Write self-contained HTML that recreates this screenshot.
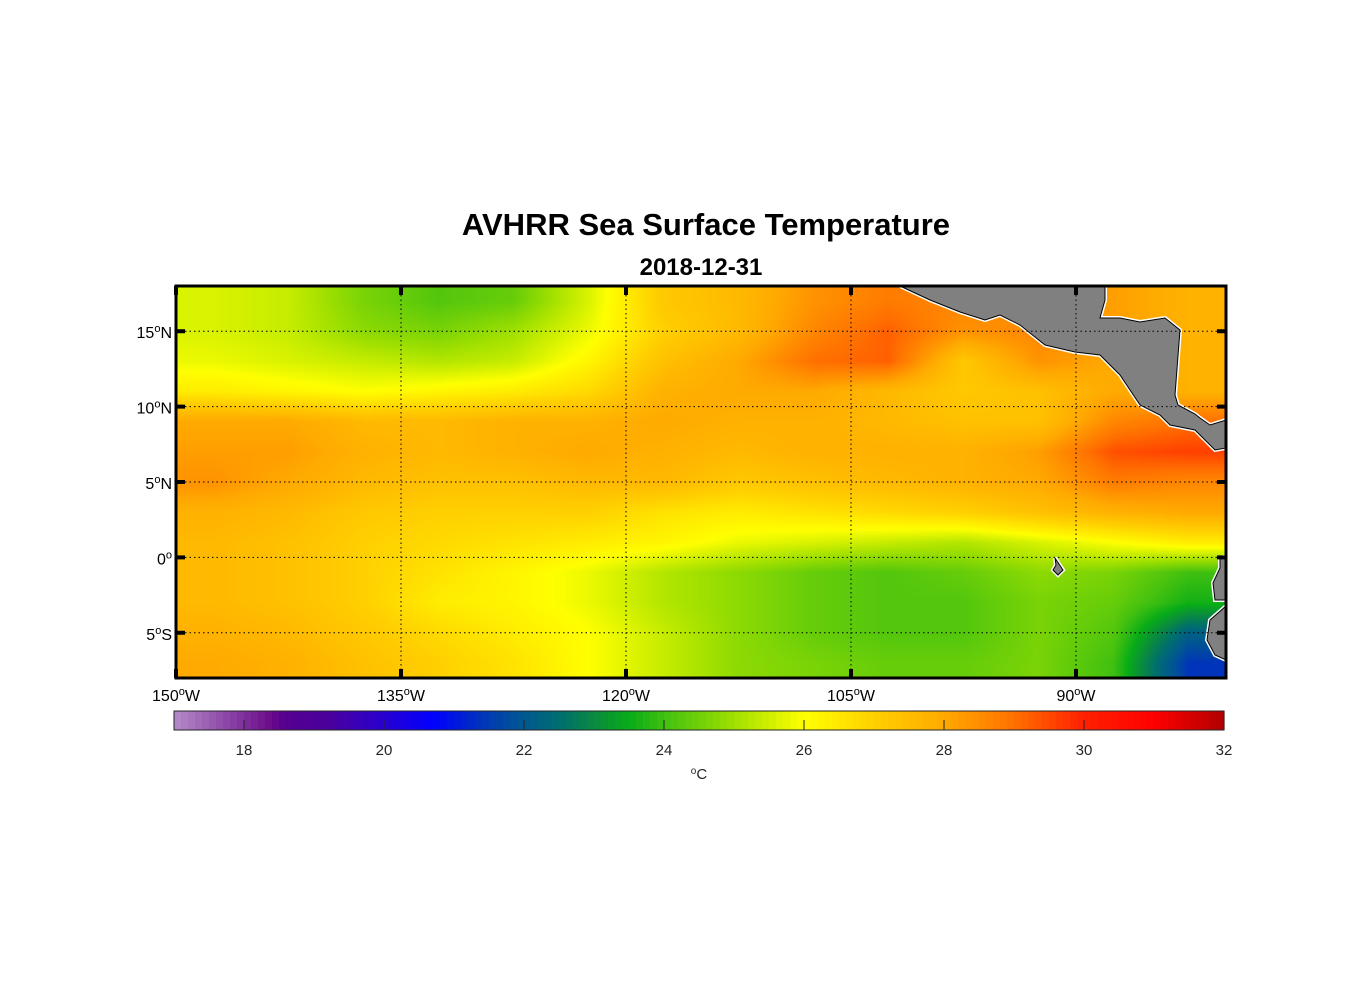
<!DOCTYPE html>
<html><head><meta charset="utf-8">
<style>
body{margin:0;background:#fff;width:1356px;height:1000px;overflow:hidden;font-family:"Liberation Sans",Arial,sans-serif}
#wrap{position:relative;width:1356px;height:1000px}
canvas{position:absolute;left:176px;top:286px}
svg{position:absolute;left:0;top:0}
</style></head><body>
<div id="wrap">
<canvas id="map" width="1050" height="392"></canvas>
<svg id="svg" width="1356" height="1000"></svg>
</div>
<script>
const lons=[147.5,142.5,137.5,132.5,127.5,122.5,117.5,112.5,107.5,102.5,97.5,92.5,87.5,82.5];
const lats=[17,15,13,11,9,7,5,3,1,-1,-3,-5,-7];
const sst=[
[25.6,25.4,24.6,24.2,24.4,25.6,27.2,27.6,28.4,28.8,28.6,28.4,28.2,27.8],
[25.6,25.4,24.8,24.6,25.0,25.8,27.0,27.6,28.6,29.2,28.4,28.6,28.2,27.8],
[25.8,25.6,25.4,25.2,25.4,26.2,27.4,28.0,29.0,29.2,27.2,28.4,28.0,27.8],
[26.4,26.2,26.0,26.2,26.4,26.8,27.8,28.0,28.0,27.6,27.2,27.4,28.0,27.8],
[28.0,28.0,27.6,27.6,27.8,27.8,28.0,27.8,27.8,27.6,27.4,27.4,28.6,29.0],
[28.2,28.2,27.8,27.6,27.8,28.0,27.8,27.6,27.8,27.8,27.8,28.2,29.4,29.6],
[28.4,28.0,27.6,27.4,27.4,27.6,27.6,27.2,27.4,27.6,27.8,28.0,28.8,28.6],
[27.8,27.6,27.2,27.0,27.0,27.0,26.6,26.4,26.6,26.8,27.0,27.4,27.8,28.0],
[27.6,27.4,27.0,26.8,26.6,26.4,26.2,25.8,25.6,25.4,25.2,25.6,26.0,26.4],
[27.6,27.4,27.0,26.6,26.2,25.8,25.2,24.8,24.4,24.2,24.4,24.8,24.6,24.0],
[27.6,27.4,27.0,26.4,26.2,25.8,25.2,24.8,24.4,24.2,24.2,24.6,24.4,23.6],
[27.8,27.6,27.2,26.8,26.4,26.0,25.4,24.8,24.4,24.2,24.2,24.6,24.2,22.2],
[28.0,27.8,27.4,27.0,26.6,26.0,25.4,24.8,24.6,24.4,24.4,24.6,24.0,21.4]];
const lonTicks=[150,135,120,105,90];
const latTicks=[15,10,5,0,-5];
const cbTicks=[18,20,22,24,26,28,30,32];
const stops=[[17,[180,140,200]],[18.4,[106,10,138]],[18.6,[85,0,145]],[19.2,[75,0,155]],[20,[40,0,208]],[20.7,[0,0,255]],[21.5,[0,60,176]],[22,[0,88,144]],[22.5,[0,110,112]],[23,[10,138,64]],[23.5,[8,172,24]],[24,[64,192,16]],[25,[160,224,0]],[26,[255,255,0]],[27,[255,208,0]],[28,[255,170,0]],[29,[255,112,0]],[30,[255,32,0]],[31,[255,0,0]],[32,[176,0,0]]];
function cmap(v){if(v<=stops[0][0])return stops[0][1];for(let i=1;i<stops.length;i++){if(v<=stops[i][0]){const a=stops[i-1],b=stops[i],t=(v-a[0])/(b[0]-a[0]);return a[1].map((c,k)=>Math.round(c+(b[1][k]-c)*t));}}return stops[stops.length-1][1];}
const X0=176,X1=1226,Y0=286,Y1=678,LW=150,LE=80,LN=18,LS=-8;
const xOf=lon=>X0+(LW-lon)/(LW-LE)*(X1-X0);
const yOf=lat=>Y0+(LN-lat)/(LN-LS)*(Y1-Y0);
const CB0=174,CB1=1224,CBmin=17,CBmax=32;
const cbx=v=>CB0+(v-CBmin)/(CBmax-CBmin)*(CB1-CB0);
const cv=document.getElementById('map'),ctx=cv.getContext('2d'),img=ctx.createImageData(1050,392);
function fidx(arr,v){const n=arr.length;let f=(v-arr[0])/(arr[1]-arr[0]);return Math.max(0,Math.min(n-1,f));}
for(let py=0;py<392;py++){const lat=LN-(py+0.5)/392*(LN-LS);const fy=fidx(lats,lat),iy=Math.min(lats.length-2,Math.floor(fy)),ty=fy-iy;
 for(let px=0;px<1050;px++){const lon=LW-(px+0.5)/1050*(LW-LE);const fx=fidx(lons,lon),ix=Math.min(lons.length-2,Math.floor(fx)),tx=fx-ix;
  const v=(sst[iy][ix]*(1-tx)+sst[iy][ix+1]*tx)*(1-ty)+(sst[iy+1][ix]*(1-tx)+sst[iy+1][ix+1]*tx)*ty;
  const c=cmap(v),o=(py*1050+px)*4;img.data[o]=c[0];img.data[o+1]=c[1];img.data[o+2]=c[2];img.data[o+3]=255;}}
ctx.putImageData(img,0,0);
const svg=document.getElementById('svg'),NS='http://www.w3.org/2000/svg';
function mk(tag,attrs,name,parent){const e=document.createElementNS(NS,tag);for(const k in attrs)e.setAttribute(k,attrs[k]);
 
 
 (parent||svg).appendChild(e);return e;}
const lands=[
"900,286 930,300 960,312 985,320 1000,315 1020,325 1045,345 1075,352 1100,355 1120,375 1140,405 1160,415 1170,425 1195,430 1200,435 1215,450 1226,448 1226,420 1210,425 1200,418 1195,414 1178,405 1175,395 1180,330 1165,318 1140,322 1120,318 1100,318 1105,300 1105,286",
"1220,558 1226,556 1226,600 1215,600 1213,583 1220,568",
"1226,606 1210,620 1207,640 1215,655 1226,660",
"1055,558 1063,570 1058,575 1053,570 1056,565"];
lands.forEach((p,i)=>{mk('polygon',{points:p,fill:'none',stroke:'#fff','stroke-width':4},'land-coast-halo-'+i);});
lands.forEach((p,i)=>{mk('polygon',{points:p,fill:'#808080',stroke:'#000','stroke-width':1},'land-'+i);});
lonTicks.forEach(l=>{if(l<LW)mk('line',{x1:xOf(l),x2:xOf(l),y1:Y0,y2:Y1,stroke:'#000','stroke-width':1,'stroke-dasharray':'1.5,3'},'lon-gridline');});
latTicks.forEach(l=>{mk('line',{x1:X0,x2:X1,y1:yOf(l),y2:yOf(l),stroke:'#000','stroke-width':1,'stroke-dasharray':'1.5,3'},'lat-gridline');});
mk('rect',{x:X0,y:Y0,width:X1-X0,height:Y1-Y0,fill:'none',stroke:'#000','stroke-width':3},'map-frame');
lonTicks.forEach(l=>{const x=xOf(l);
 mk('line',{x1:x,x2:x,y1:Y0,y2:Y0+9,stroke:'#000','stroke-width':4},'lon-tick-top');
 mk('line',{x1:x,x2:x,y1:Y1-9,y2:Y1,stroke:'#000','stroke-width':4},'lon-tick-bottom');
 const t=mk('text',{x:x,y:701,'font-size':16,'text-anchor':'middle'},'lon-tick-label');
 t.innerHTML=l+'<tspan dy="-6" font-size="11">o</tspan><tspan dy="6">W</tspan>';});
latTicks.forEach(l=>{const y=yOf(l);
 mk('line',{x1:X0,x2:X0+9,y1:y,y2:y,stroke:'#000','stroke-width':4},'lat-tick-left');
 mk('line',{x1:X1-9,x2:X1,y1:y,y2:y,stroke:'#000','stroke-width':4},'lat-tick-right');
 const t=mk('text',{x:172,y:y+7,'font-size':16,'text-anchor':'end'},'lat-tick-label');
 const h=l>0?'N':(l<0?'S':'');t.innerHTML=Math.abs(l)+'<tspan dy="-6" font-size="11">o</tspan><tspan dy="6">'+h+'</tspan>';});
for(let v=CBmin;v<CBmax-1e-6;v+=0.1){const c=cmap(v+0.05);
 mk('rect',{x:cbx(v),y:711,width:cbx(v+0.1)-cbx(v)+0.6,height:19,fill:'rgb('+c.join(',')+')'},'colorbar-band');}
mk('rect',{x:CB0,y:711,width:CB1-CB0,height:19,fill:'none',stroke:'#262626','stroke-width':1},'colorbar-frame');
cbTicks.forEach(v=>{const x=cbx(v);
 mk('line',{x1:x,x2:x,y1:720,y2:730,stroke:'#262626','stroke-width':1},'colorbar-tick');
 const t=mk('text',{x:x,y:755,'font-size':15,'text-anchor':'middle',fill:'#262626'},'colorbar-tick-label');t.textContent=v;});
const u=mk('text',{x:699,y:779,'font-size':15,'text-anchor':'middle',fill:'#262626'},'colorbar-unit-label');
u.innerHTML='<tspan dy="-5" font-size="10">o</tspan><tspan dy="5">C</tspan>';
const ti=mk('text',{x:706,y:235,'font-size':31,'font-weight':'bold','text-anchor':'middle'},'chart-title');ti.textContent='AVHRR Sea Surface Temperature';
const st=mk('text',{x:701,y:275,'font-size':24,'font-weight':'bold','text-anchor':'middle'},'chart-subtitle');st.textContent='2018-12-31';
</script>
</body></html>
